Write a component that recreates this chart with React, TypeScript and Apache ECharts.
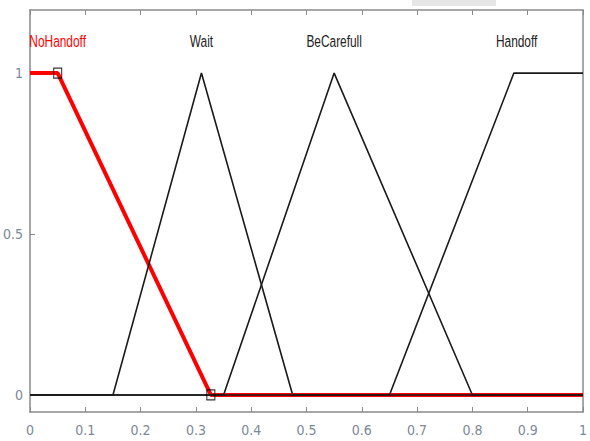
import React, { useEffect, useRef } from "react";
import * as echarts from "echarts";

// Membership functions of the handoff decision variable
const noHandoff: [number, number][] = [[0, 1], [0.05, 1], [0.327, 0], [1, 0]];
const wait: [number, number][] = [[0, 0], [0.15, 0], [0.31, 1], [0.475, 0], [1, 0]];
const beCarefull: [number, number][] = [[0, 0], [0.35, 0], [0.55, 1], [0.8, 0], [1, 0]];
const handoff: [number, number][] = [[0, 0], [0.65, 0], [0.875, 1], [1, 1]];

// Selected-function vertices marked with squares
const handles: [number, number][] = [[0.05, 1], [0.327, 0]];

// Names written above each function, at their centres
const mfNames = ["NoHandoff", "Wait", "BeCarefull", "Handoff"];
const mfNameX = [0.05, 0.31, 0.55, 0.88];
const nameY = 1.1;
const selectedIndex = 0;

const yTicks = [0, 0.5, 1];

const FONT = "'DejaVu Sans Condensed', 'Liberation Sans', Arial, sans-serif";
const NAME_FONT = "'Liberation Sans', Arial, sans-serif";
const FRAME = "#8a8a8a";
const TICKLABEL = "#7d8898";

export default function App() {
  const ref = useRef<HTMLDivElement>(null);

  useEffect(() => {
    if (!ref.current) return;
    const chart = echarts.init(ref.current, null, { renderer: "svg" });

    const blackLine = (name: string, data: [number, number][]) => ({
      name,
      type: "line",
      data,
      symbol: "none",
      lineStyle: { color: "#1a1a1a", width: 1.6 },
      z: 3,
    });

    chart.setOption({
      animation: false,
      backgroundColor: "#ffffff",
      grid: { left: 27, right: 1, top: 10, bottom: 29 },
      xAxis: [
        {
          type: "value",
          min: 0,
          max: 1,
          interval: 0.1,
          position: "bottom",
          axisLine: { show: true, onZero: false, lineStyle: { color: FRAME, width: 1.5 } },
          axisTick: { show: true, inside: true, length: 5, lineStyle: { color: FRAME } },
          axisLabel: { color: TICKLABEL, fontSize: 14, fontFamily: FONT, margin: 11 },
          splitLine: { show: false },
        },
        {
          type: "value",
          min: 0,
          max: 1,
          interval: 0.1,
          position: "top",
          axisLine: { show: true, onZero: false, lineStyle: { color: FRAME, width: 1.5 } },
          axisTick: { show: true, inside: true, length: 5, lineStyle: { color: FRAME } },
          axisLabel: { show: false },
          splitLine: { show: false },
        },
      ],
      yAxis: [
        {
          type: "value",
          min: -0.053,
          max: 1.196,
          position: "left",
          axisLine: { show: true, onZero: false, lineStyle: { color: FRAME, width: 1.5 } },
          axisTick: { show: true, inside: true, length: 5, customValues: yTicks, lineStyle: { color: FRAME } },
          axisLabel: { color: TICKLABEL, fontSize: 14, fontFamily: FONT, margin: 7, customValues: yTicks },
          splitLine: { show: false },
        },
        {
          type: "value",
          min: -0.053,
          max: 1.196,
          position: "right",
          axisLine: { show: true, onZero: false, lineStyle: { color: FRAME, width: 1.5 } },
          axisTick: { show: false },
          axisLabel: { show: false },
          splitLine: { show: false },
        },
      ],
      series: [
        {
          name: "NoHandoff",
          type: "line",
          data: noHandoff,
          symbol: "none",
          lineStyle: { color: "#ff0000", width: 4 },
          z: 2,
        },
        blackLine("Wait", wait),
        blackLine("BeCarefull", beCarefull),
        blackLine("Handoff", handoff),
        {
          name: "handles",
          type: "scatter",
          data: handles,
          symbol: "rect",
          symbolSize: [8, 10],
          itemStyle: { color: "rgba(0,0,0,0)", borderColor: "#000000", borderWidth: 1.2 },
          z: 5,
        },
      ],
    });

    // Function names in a tall, narrow face, placed at their data positions
    const nameTexts = mfNames.map((n, i) => {
      const [px, py] = chart.convertToPixel({ gridIndex: 0 }, [mfNameX[i], nameY]) as number[];
      return {
        type: "text",
        x: px,
        y: py,
        scaleX: 0.7,
        style: {
          text: n,
          fontFamily: NAME_FONT,
          fontSize: 17,
          fill: i === selectedIndex ? "#ff0000" : "#222222",
          align: "center",
          verticalAlign: "middle",
        },
        z: 6,
      };
    });

    chart.setOption({
      graphic: [
        {
          type: "rect",
          shape: { x: 412, y: 0, width: 84, height: 6 },
          style: { fill: "#e6e6e6" },
          z: 0,
        },
        ...nameTexts,
      ],
    });

    return () => chart.dispose();
  }, []);

  return <div ref={ref} style={{ width: 590, height: 441, position: "absolute", left: 0, top: 0 }} />;
}
